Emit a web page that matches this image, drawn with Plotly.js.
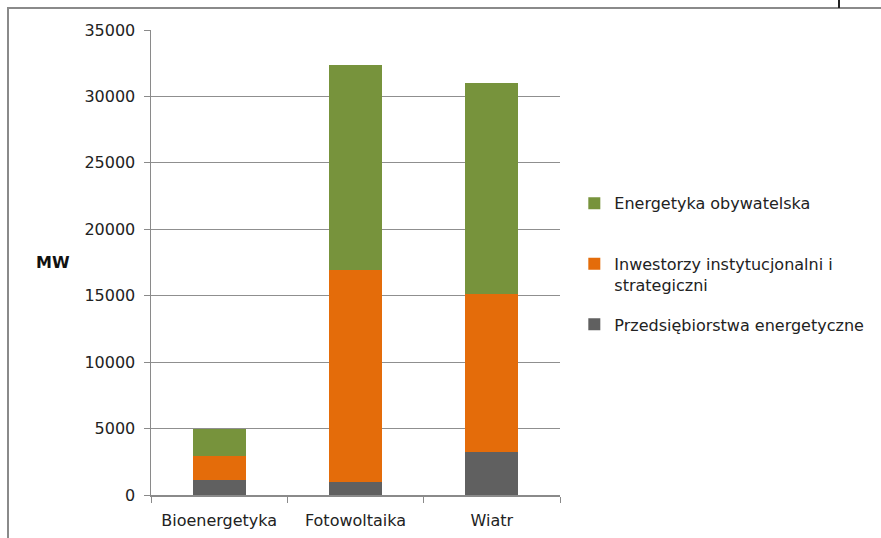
<!DOCTYPE html>
<html>
<head>
<meta charset="utf-8">
<script src="https://cdn.plot.ly/plotly-3.0.1.min.js"></script>
<style>
  html, body { margin: 0; padding: 0; background: #ffffff; overflow: hidden; }
  #frame { position: absolute; left: 7px; top: 7px; width: 1000px; height: 700px;
           border-top: 2px solid #8a8a8a; border-left: 2px solid #8a8a8a; pointer-events: none; z-index: 5; }
  #tick { position: absolute; left: 838px; top: 0px; width: 2px; height: 8px; background: #222; z-index: 6; }
  #chart { position: absolute; left: 0; top: 0; width: 881px; height: 538px; }
</style>
</head>
<body>
<div id="chart"></div>
<div id="frame"></div>
<div id="tick"></div>
<script>
const categories = ["Bioenergetyka", "Fotowoltaika", "Wiatr"];
const seriesNames = ["Przedsiębiorstwa energetyczne", "Inwestorzy instytucjonalni i<br>strategiczni", "Energetyka obywatelska<br> "];
const przedsiebiorstwa = [1100, 1000, 3200];
const inwestorzy = [1850, 15900, 11950];
const obywatelska = [2050, 15500, 15850];
const yTicks = [0, 5000, 10000, 15000, 20000, 25000, 30000, 35000];
const colors = ["#606060", "#E46C0A", "#77933C"];
const legendRanks = [3, 2, 1];

const seriesValues = [przedsiebiorstwa, inwestorzy, obywatelska];
const font = "DejaVu Sans, sans-serif";

const traces = seriesValues.map((vals, i) => ({
  type: "bar",
  x: categories,
  y: vals,
  name: seriesNames[i],
  legendgroup: "g" + i,
  legendrank: legendRanks[i],
  marker: { color: colors[i], line: { width: 0 } },
  hoverinfo: "none"
}));

const layout = {
  width: 881,
  height: 538,
  paper_bgcolor: "#ffffff",
  plot_bgcolor: "#ffffff",
  barmode: "stack",
  bargap: 0.61,
  margin: { l: 151, r: 321, t: 30, b: 43 },
  font: { family: font, size: 16, color: "#222222" },
  showlegend: true,
  legend: {
    x: 1.035, y: 0.664, xanchor: "left", yanchor: "top",
    traceorder: "grouped",
    tracegroupgap: 16,
    valign: "top",
    font: { family: font, size: 16, color: "#222222" },
    itemwidth: 30
  },
  xaxis: {
    type: "category",
    tickson: "boundaries",
    ticks: "outside",
    ticklen: 6,
    tickcolor: "#8a8a8a",
    showline: true,
    linecolor: "#8a8a8a",
    linewidth: 1.5,
    showgrid: false,
    ticklabelstandoff: 10,
    tickfont: { family: font, size: 16, color: "#222222" }
  },
  yaxis: {
    range: [0, 35000],
    tickvals: yTicks,
    ticktext: yTicks.map(String),
    ticks: "outside",
    ticklen: 6,
    tickcolor: "#8a8a8a",
    showline: true,
    linecolor: "#8a8a8a",
    linewidth: 1.5,
    showgrid: true,
    gridcolor: "#8f8f8f",
    gridwidth: 1.2,
    zeroline: false,
    ticklabelstandoff: 5,
    tickfont: { family: font, size: 16, color: "#222222" }
  },
  annotations: [{
    text: "<b>MW</b>",
    xref: "paper", yref: "paper",
    x: -0.24, y: 0.499,
    xanchor: "center", yanchor: "middle",
    showarrow: false,
    font: { family: font, size: 16, color: "#111111" }
  }]
};

Plotly.newPlot("chart", traces, layout, { staticPlot: true, displayModeBar: false });
</script>
</body>
</html>
